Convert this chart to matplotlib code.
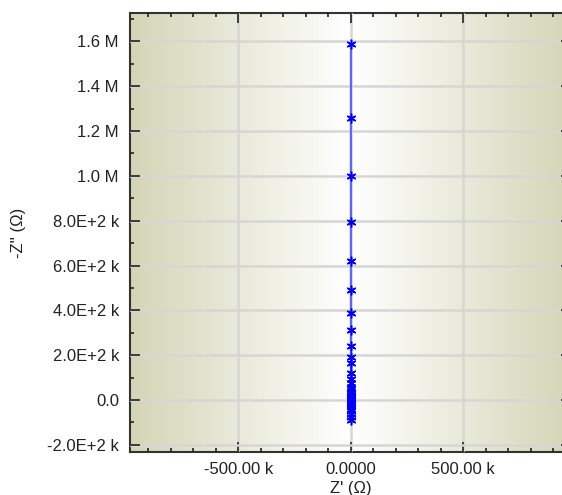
import numpy as np
import matplotlib
matplotlib.use('Agg')
import matplotlib.pyplot as plt
from matplotlib.colors import LinearSegmentedColormap
from matplotlib.ticker import FixedLocator, MultipleLocator

plt.rcParams['font.family'] = ['Liberation Sans', 'DejaVu Sans']

# data (ohm)
z_real = [1.2e3, 1.0e3, 1.1e3, 0.9e3, 1.0e3, 1.1e3, 1.0e3, 1.2e3, 1.0e3, 1.1e3,
          1.0e3, 1.2e3, 1.1e3, 1.0e3, 1.2e3, 1.1e3, 1.3e3, 1.2e3, 1.1e3, 1.3e3,
          1.2e3, 1.4e3, 1.3e3, 1.2e3, 1.4e3, 1.3e3, 1.5e3, 1.4e3, 1.3e3, 1.5e3,
          1.4e3, 1.5e3, 1.4e3]
z_imag = [1590e3, 1258e3, 999e3, 794e3, 620e3, 491e3, 388e3, 312e3, 241e3, 192e3,
          165e3, 120e3, 95e3, 75e3, 60e3, 47e3, 37e3, 29e3, 22e3, 16e3,
          11e3, 6e3, 2e3, -2e3, -7e3, -13e3, -20e3, -29e3, -39e3, -50e3,
          -62e3, -76e3, -89e3]

x_ticks = [-500e3, 0, 500e3]
x_ticklabels = ['-500.00 k', '0.0000', '500.00 k']
y_ticks = [-200e3, 0, 200e3, 400e3, 600e3, 800e3, 1.0e6, 1.2e6, 1.4e6, 1.6e6]
y_ticklabels = ['-2.0E+2 k', '0.0', '2.0E+2 k', '4.0E+2 k', '6.0E+2 k',
                '8.0E+2 k', '1.0 M', '1.2 M', '1.4 M', '1.6 M']

xmin, xmax = -981e3, 981e3
ymin, ymax = -232e3, 1725e3

fig = plt.figure(figsize=(5.62, 4.95), dpi=100)
ax = fig.add_axes([0.2313, 0.0869, 0.7854, 0.886])

# horizontal gradient background: olive at the edges, white in the middle
edge = '#d4d5b6'
cmap = LinearSegmentedColormap.from_list('bg', [edge, '#ffffff', edge])
grad = np.linspace(0, 1, 512).reshape(1, -1)
ax.imshow(grad, cmap=cmap, extent=[xmin, xmax, ymin, ymax], aspect='auto',
          zorder=0, interpolation='bicubic')

ax.set_xlim(xmin, xmax)
ax.set_ylim(ymin, ymax)

ax.grid(True, color='#d6d6d6', linewidth=1.8, zorder=1)
ax.set_axisbelow(False)

ax.plot(z_real, z_imag, color='#6262ff', linewidth=1.6, zorder=3)
ax.plot(z_real, z_imag, linestyle='none', marker=(6, 2, 0), markersize=7,
        markeredgewidth=1.1, color='#0000ff', zorder=4)

ax.xaxis.set_major_locator(FixedLocator(x_ticks))
ax.set_xticklabels(x_ticklabels)
ax.yaxis.set_major_locator(FixedLocator(y_ticks))
ax.set_yticklabels(y_ticklabels)
ax.xaxis.set_minor_locator(MultipleLocator(100e3))
ax.yaxis.set_minor_locator(MultipleLocator(100e3))

ax.tick_params(which='both', direction='in', top=True, right=True,
               color='#222222', labelsize=12, labelcolor='#222222')
ax.tick_params(axis='y', which='major', pad=8)
ax.tick_params(axis='x', which='major', pad=7)
ax.tick_params(which='major', length=7, width=1.2)
ax.tick_params(which='minor', length=3, width=1.2)

for sp in ax.spines.values():
    sp.set_color('#333333')
    sp.set_linewidth(1.5)

ax.set_xlabel("Z' (\u03a9)", fontsize=12, color='#222222', labelpad=3)
ax.set_ylabel("-Z'' (\u03a9)", fontsize=12, color='#222222', labelpad=15)

fig.savefig('out.png', dpi=100)
